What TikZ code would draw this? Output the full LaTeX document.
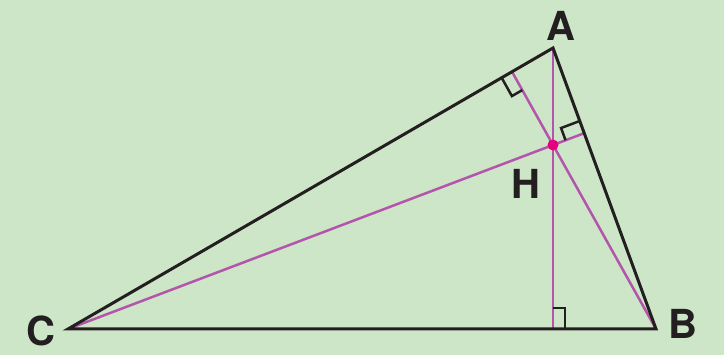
\documentclass[tikz,border=0pt]{standalone}
\usepackage{fontspec}
\setmainfont{TeX Gyre Heros}
\usetikzlibrary{calc}
\definecolor{bg}{HTML}{CDE6C8}
\definecolor{alt}{HTML}{B455AC}
\definecolor{dotc}{HTML}{E6007E}
\definecolor{ink}{HTML}{231F20}
\begin{document}
\begin{tikzpicture}[x=1pt,y=-1pt,
  side/.style={draw=ink,line width=3pt,line join=miter},
  altitude/.style={draw=alt,line width=2.5pt},
  rmark/.style={draw=ink,line width=2.5pt},
  lbl/.style={font=\fontsize{40}{41}\selectfont\bfseries,text=ink,inner sep=0pt}]
\fill[bg] (0,0) rectangle (724,355);
\useasboundingbox (0,0) rectangle (724,355);
\coordinate (A) at (553,48);
\coordinate (B) at (656,329);
\coordinate (C) at (68,329);
\coordinate (H) at (553,145);
\coordinate (Fa) at (553,329);
\coordinate (Fb) at (intersection of A--C and B--H);
\coordinate (Fc) at (intersection of A--B and C--H);
% altitudes
\draw[altitude] (A) -- (Fa);
\draw[altitude] (B) -- (Fb);
\draw[altitude] (C) -- (Fc);
% triangle
\draw[side] (A) -- (B) -- (C) -- cycle;
% right-angle marks
\coordinate (ua) at ($(Fa)!12pt!(B)$);
\coordinate (va) at ($(Fa)!21pt!(H)$);
\draw[rmark] (ua) -- ($(ua)+(va)-(Fa)$) -- (va);
\coordinate (ub) at ($(Fb)!12pt!(C)$);
\coordinate (vb) at ($(Fb)!21pt!(H)$);
\draw[rmark] (ub) -- ($(ub)+(vb)-(Fb)$) -- (vb);
\coordinate (uc) at ($(Fc)!13pt!(A)$);
\coordinate (vc) at ($(Fc)!20pt!(H)$);
\draw[rmark] (uc) -- ($(uc)+(vc)-(Fc)$) -- (vc);
% orthocenter
\fill[dotc] (H) circle (5.5);
% labels
\node[lbl] (lA) at (561,26) {A};
\node[lbl] (lB) at (683,324) {B};
\node[lbl] (lC) at (41,331) {C};
\node[lbl] (lH) at (526,184) {H};
\end{tikzpicture}
\end{document}
